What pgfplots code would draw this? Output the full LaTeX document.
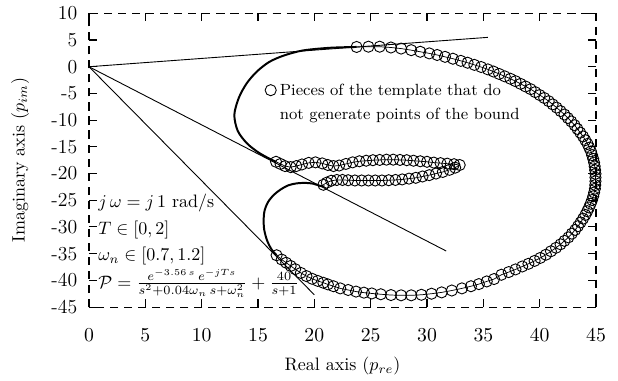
\documentclass[border=0pt]{standalone}
\usepackage{pgfplots}
\pgfplotsset{compat=1.18}
\begin{document}
\begin{tikzpicture}
\path[use as bounding box] (-49.44pt,-40.56pt) rectangle (293.9pt,170.6pt);
\begin{axis}[
  scale only axis, width=281.7pt, height=163.2pt,
  xmin=0, xmax=45, ymin=-45, ymax=10,
  xtick={0,5,...,45}, ytick={-45,-40,...,10},
  yticklabels={-45,-40,-35,-30,-25,-20,-15,-10,-5,0,5,10},
  axis line style={line width=0.6pt, dash pattern=on 4.5pt off 3.3pt},
  tick style={solid, black, line width=0.6pt},
  tick align=inside,
  tick label style={font=\fontsize{11}{13}\selectfont},
  label style={font=\fontsize{11}{13}\selectfont},
  xticklabel style={yshift=-8.5pt},
  yticklabel style={xshift=-3.0pt},
  every axis x label/.style={at={(axis description cs:0.5,-0.2)}, anchor=center},
  every axis y label/.style={at={(axis description cs:-0.136,0.5)}, anchor=center, rotate=90},
  xlabel={Real axis ($p_{re}$)},
  ylabel={Imaginary axis ($p_{im}$)},
  clip=false,
  legend style={at={(axis cs:15.6,-2.1)}, anchor=north west, draw=none, fill=none, font=\small, inner sep=0pt},
  legend cell align=left,
]
% tangent lines
\addplot[black, line width=0.5pt, forget plot] coordinates {(0,0) (35.4,5.5)};
\addplot[black, line width=0.5pt, forget plot] coordinates {(0,0) (31.7,-34.5)};
\addplot[black, line width=0.5pt, forget plot] coordinates {(0,0) (20,-42.7)};
% template pieces that do not generate bound points
\addplot[black, line width=1.1pt, smooth, forget plot] coordinates {
(23.75,3.7) (21.4,3.55) (19,3.05) (17.3,2.1) (16.0,0.9) (14.9,-0.9) (14.0,-3.1) (13.3,-5.8) (12.9,-9) (13.2,-12) (14.0,-14.3) (15.0,-16.0) (16.0,-17.2) (16.6,-17.8)};
\addplot[black, line width=1.1pt, smooth, forget plot] coordinates {
(16.65,-35.3) (16.2,-34.2) (15.8,-32.5) (15.55,-30.5) (15.5,-28.5) (15.6,-26.8) (15.9,-25.3) (16.4,-24.0) (17.0,-23.0) (17.7,-22.2) (18.4,-21.85) (19.2,-21.75) (19.9,-21.9) (20.5,-22.3) (20.9,-22.4)};
% bound: outer
\addplot[black, line width=0.4pt, mark=o, mark size=3.1pt, mark options={line width=0.5pt},
  legend image code/.code={\draw[line width=0.5pt] plot[mark=o, mark size=3.1pt] coordinates {(0.1cm,0cm)};}] coordinates {
(23.75,3.7) (24.8,3.75) (25.8,3.75) (26.8,3.6) (27.7,3.4) (28.6,3.1) (29.4,2.8)
(30.2,2.5) (30.9,2.2) (31.6,1.85) (32.3,1.5) (33.0,1.1) (33.6,0.75) (34.2,0.35) (34.8,-0.05) (35.4,-0.5) (35.9,-0.9)
(36.4,-1.35) (36.9,-1.8) (37.4,-2.25) (37.85,-2.7) (38.3,-3.2) (38.75,-3.7) (39.2,-4.2) (39.6,-4.75) (40.0,-5.3)
(40.4,-5.85) (40.8,-6.45) (41.15,-7.05) (41.5,-7.65) (41.85,-8.3) (42.2,-8.95) (42.5,-9.6) (42.8,-10.25) (43.1,-10.95)
(43.35,-11.65) (43.6,-12.35) (43.85,-13.05) (44.05,-13.75) (44.25,-14.45) (44.4,-15.15) (44.55,-15.85) (44.65,-16.55)
(44.75,-17.25) (44.83,-17.95) (44.88,-18.65) (44.92,-19.35) (44.95,-20.05) (44.95,-20.75) (44.95,-21.45) (44.93,-22.15)
(44.9,-22.85) (44.83,-23.55) (44.75,-24.25) (44.65,-24.95) (44.52,-25.65) (44.38,-26.35) (44.22,-27.05) (44.05,-27.75)
(43.85,-28.45) (43.63,-29.15) (43.4,-29.85) (43.15,-30.55) (42.85,-31.25) (42.55,-31.95) (42.2,-32.6) (41.85,-33.25)
(41.45,-33.9) (41.0,-34.55) (40.55,-35.2) (40.05,-35.8) (39.55,-36.35) (39.0,-36.9) (38.45,-37.4) (37.85,-37.95)
(37.25,-38.45) (36.6,-38.95) (35.95,-39.75) (35.3,-40.2) (34.6,-40.7) (33.9,-41.1) (33.1,-41.5) (32.2,-41.9)
(31.3,-42.25) (30.4,-42.5) (29.5,-42.7) (28.6,-42.8) (27.7,-42.8) (26.8,-42.75) (25.9,-42.6) (25.1,-42.45) (24.4,-42.3)
(23.7,-42.1) (23.0,-41.8) (22.3,-41.5) (21.7,-41.1) (21.2,-40.75) (20.8,-40.45) (20.3,-40.1) (19.8,-39.7) (19.3,-39.2)
(18.8,-38.6) (18.3,-37.9) (17.9,-37.3) (17.5,-36.7) (17.1,-36.1) (16.65,-35.3)};
\addlegendentry{\begin{tabular}[t]{@{}l@{}}Pieces of the template that do\\[2pt]not generate points of the bound\end{tabular}}
% bound: inner loop
\addplot[black, line width=0.4pt, mark=o, mark size=3.1pt, mark options={line width=0.5pt}, forget plot] coordinates {
(16.6,-17.8) (17.0,-18.2) (17.4,-18.6) (17.9,-18.8) (18.4,-18.6) (18.9,-18.3) (19.5,-18.0) (20.1,-17.9) (20.7,-18.1)
(21.2,-18.4) (21.7,-18.6) (22.2,-18.5) (22.8,-18.2) (23.4,-17.9) (24.0,-17.7) (24.6,-17.6) (25.2,-17.5) (25.8,-17.45)
(26.4,-17.4) (27.0,-17.4) (27.6,-17.45) (28.2,-17.5) (28.8,-17.6) (29.4,-17.7) (30.0,-17.8) (30.6,-17.95) (31.2,-18.05)
(31.8,-18.15) (32.4,-18.25) (32.9,-18.4)
(32.5,-18.9) (32.0,-19.3) (31.4,-19.7) (30.8,-20.0) (30.2,-20.3) (29.6,-20.55) (29.0,-20.8) (28.4,-20.95) (27.8,-21.1)
(27.2,-21.2) (26.6,-21.25) (26.0,-21.3) (25.4,-21.3) (24.8,-21.3) (24.2,-21.3) (23.6,-21.3) (23.0,-21.25) (22.5,-21.2)
(22.0,-21.2) (21.5,-21.35) (21.1,-21.7) (20.8,-22.1)};
% annotations
\node[anchor=west, inner sep=0pt] at (axis cs:0.8,-25.5) {$j\,\omega = j\,1$ rad/s};
\node[anchor=west, inner sep=0pt] at (axis cs:0.8,-30.5) {$T\in[0,2]$};
\node[anchor=west, inner sep=0pt] at (axis cs:0.8,-35.5) {$\omega_n\in[0.7,1.2]$};
\node[anchor=west, inner sep=0pt] at (axis cs:0.8,-40.6) {$\mathcal{P}=\frac{e^{-3.56\,s}\,e^{-jTs}}{s^2+0.04\omega_n\,s+\omega_n^2}+\frac{40}{s+1}$};
\end{axis}
\end{tikzpicture}
\end{document}
